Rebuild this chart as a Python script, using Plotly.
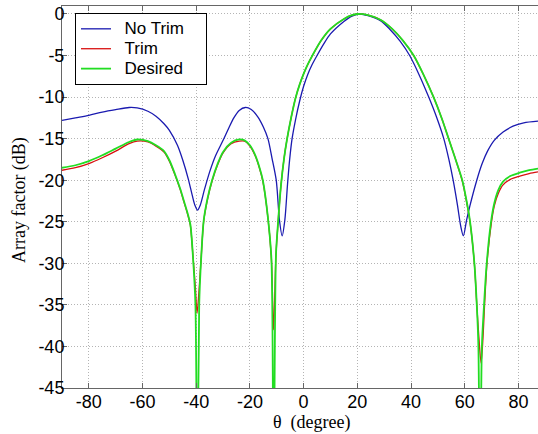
import plotly.graph_objects as go

# ---- data ----
theta_no_trim = [-90, -85, -80, -75, -70, -65, -62, -58, -55, -52, -50, -47, -45, -43,
                 -41.5, -40.5, -39.5, -38.5, -37, -35, -33, -30, -28, -26, -24, -21.7,
                 -19.5, -17, -15, -13.3, -11.8, -10.2, -9.0, -8.0, -7.0, -6.0, -5.2,
                 -4.3, -3.0, -1.5, 0, 1.5, 3, 5, 7.5, 10, 15, 18, 21, 24, 28.6, 32, 36,
                 39.5, 43, 46.6, 49.5, 52.2, 54.1, 55.7, 57.3, 58.5, 59.5, 60.7, 62,
                 64.5, 66.5, 68.5, 71, 74.3, 78, 82, 87.3]
af_no_trim = [-12.8, -12.5, -12.2, -11.8, -11.5, -11.25, -11.3, -11.7, -12.3, -13.2,
              -14.0, -15.8, -17.6, -19.8, -21.8, -23.0, -23.6, -23.0, -21.2, -19.0,
              -17.2, -15.2, -13.8, -12.5, -11.6, -11.25, -11.5, -12.4, -13.6, -15.0,
              -17.3, -20.0, -24.8, -26.7, -24.8, -20.5, -17.5, -15.0, -12.7, -10.5,
              -8.7, -7.3, -6.2, -5.0, -3.6, -2.4, -0.9, -0.25, 0.0, -0.2, -0.8, -1.8,
              -3.3, -5.0, -7.3, -10.0, -12.4, -15.0, -17.5, -20.0, -23.0, -25.5,
              -26.7, -24.8, -23.0, -20.0, -18.0, -16.5, -15.2, -14.2, -13.5, -13.1,
              -12.9]

theta_desired = [-90, -85, -80, -75, -70, -65, -62, -58, -55, -52, -50, -48, -46,
                 -44.5, -43.2, -42.2, -41.2, -40.3, -39.6, -38.9, -38.2, -37.2, -35.8,
                 -34.1, -32, -30, -27, -24, -22, -20, -18, -16.5, -15.2, -13.3, -12.0,
                 -11.2, -10.3, -9.5, -8.4, -7.3, -6.2, -4.6, -3.0, -1.5, 0, 1.5, 3.1,
                 6.5, 10, 15, 18, 20.6, 24, 28.6, 33, 37, 41, 44.5, 48.4, 51.5, 54,
                 56.7, 59.1, 60.7, 62, 63.6, 64.5, 65.1, 65.7, 66.4, 67.2, 68.2, 69.8,
                 71.0, 72.5, 74.2, 77, 80.5, 84, 87.3]
af_desired = [-18.5, -18.2, -17.7, -17.0, -16.2, -15.4, -15.1, -15.3, -15.8, -16.5,
              -17.6, -19.2, -21.0, -22.6, -24.0, -25.3, -29.3, -35.0, -60.0, -35.0,
              -29.6, -24.8, -22.2, -20.0, -18.0, -16.6, -15.5, -15.1, -15.2, -15.8,
              -17.0, -18.4, -20.0, -24.5, -29.5, -60.0, -29.0, -25.0, -20.5, -17.4,
              -15.1, -12.4, -10.1, -8.5, -7.2, -6.1, -5.1, -3.2, -1.8, -0.6, -0.15,
              0.0, -0.15, -0.7, -1.8, -3.2, -5.0, -7.2, -10.0, -12.6, -15.0, -17.6,
              -20.0, -22.5, -25.0, -30.0, -35.0, -40.0, -60.0, -40.0, -35.0, -30.0,
              -25.0, -22.8, -21.2, -20.2, -19.5, -19.1, -18.8, -18.6]

theta_trim = [-90, -85, -80, -75, -70, -65, -62, -58, -55, -52, -50, -48, -46,
              -44.5, -43.2, -42.2, -41.2, -40.3, -39.7, -38.9, -38.2, -37.2, -35.8,
              -34.1, -32, -30, -27, -24, -22, -20, -18, -16.5, -15.2, -13.3, -12.0,
              -11.2, -10.3, -9.5, -8.4, -7.3, -6.2, -4.6, -3.0, -1.5, 0, 1.5, 3.1,
              6.5, 10, 15, 18, 20.6, 24, 28.6, 33, 37, 41, 44.5, 48.4, 51.5, 54,
              56.7, 59.1, 60.7, 62, 63.6, 64.5, 65.3, 66.1, 66.8, 67.4, 68.3, 69.9,
              71.0, 72.5, 74.2, 77, 80.5, 84, 87.3]
af_trim = [-18.8, -18.5, -18.0, -17.3, -16.5, -15.6, -15.3, -15.4, -15.9, -16.6,
           -17.7, -19.3, -21.1, -22.7, -24.1, -25.4, -29.2, -33.0, -36.0, -33.0,
           -29.5, -24.9, -22.3, -20.1, -18.1, -16.7, -15.6, -15.3, -15.3, -15.9,
           -17.1, -18.5, -20.1, -24.5, -29.5, -38.0, -29.0, -25.0, -20.5, -17.4,
           -15.1, -12.4, -10.1, -8.5, -7.2, -6.1, -5.1, -3.2, -1.8, -0.6, -0.15,
           0.0, -0.15, -0.7, -1.8, -3.2, -5.0, -7.2, -10.0, -12.6, -15.0, -17.6,
           -20.1, -22.6, -25.1, -30.0, -35.0, -39.0, -42.0, -39.0, -35.0, -30.0,
           -25.2, -23.1, -21.6, -20.6, -19.9, -19.5, -19.2, -19.0]

x_ticks = [-80, -60, -40, -20, 0, 20, 40, 60, 80]
x_ticktext = ["-80", "-60", "-40", "-20", "0", "20", "40", "60", "80"]
y_ticks = [0, -5, -10, -15, -20, -25, -30, -35, -40, -45]
y_ticktext = ["0", "-5", "-10", "-15", "-20", "-25", "-30", "-35", "-40", "-45"]

series_names = ["No Trim", "Trim", "Desired"]


def legend_label(s):
    return '<span style="font-size:17px">\u2002' + s + '\u2002\u2002</span>'


fig = go.Figure()
fig.add_trace(go.Scatter(x=theta_no_trim, y=af_no_trim, mode="lines", name=legend_label(series_names[0]),
                         line=dict(color="#1a1ab0", width=1.3, shape="spline", smoothing=0.8)))
fig.add_trace(go.Scatter(x=theta_trim, y=af_trim, mode="lines", name=legend_label(series_names[1]),
                         line=dict(color="#d81010", width=1.3, shape="spline", smoothing=0.8)))
fig.add_trace(go.Scatter(x=theta_desired, y=af_desired, mode="lines", name=legend_label(series_names[2]),
                         line=dict(color="#22dd22", width=1.8, shape="spline", smoothing=0.8)))

axis_font = dict(family="Liberation Sans, Arial, sans-serif", size=18, color="#000")
serif = "Liberation Serif, Times New Roman, serif"

fig.update_layout(
    width=538, height=434,
    margin=dict(l=62, r=0, t=6, b=46),
    paper_bgcolor="white", plot_bgcolor="white",
    showlegend=True,
    legend=dict(x=0.0273, y=0.982, xanchor="left", yanchor="top",
                bgcolor="white", bordercolor="#000", borderwidth=1,
                font=dict(family="Liberation Sans, Arial, sans-serif", size=13, color="#000"),
                tracegroupgap=0, itemwidth=30),
    xaxis=dict(range=[-90, 87.3], tickvals=x_ticks, ticktext=x_ticktext,
               ticks="inside", ticklen=5, tickcolor="#666",
               showline=True, linecolor="#666", linewidth=1, mirror="ticks",
               showgrid=True, gridcolor="#b4b4b4", griddash="1px,2px", gridwidth=1,
               zeroline=False, tickfont=axis_font, automargin=False,
               ticklabelstandoff=-3),
    yaxis=dict(range=[-45, 0.96], tickvals=y_ticks, ticktext=y_ticktext,
               ticks="inside", ticklen=5, tickcolor="#666",
               showline=True, linecolor="#666", linewidth=1, mirror=False,
               showgrid=True, gridcolor="#b4b4b4", griddash="1px,2px", gridwidth=1,
               zeroline=False, tickfont=axis_font, automargin=False,
               ticklabelstandoff=-7),
    annotations=[
        dict(text="θ  (degree)", xref="paper", yref="paper",
             x=0.525, y=-0.0916, xanchor="center", yanchor="middle", showarrow=False,
             font=dict(family=serif, size=18, color="#000")),
        dict(text="Array factor (dB)", xref="paper", yref="paper", textangle=-90,
             x=-0.0903, y=0.492, xanchor="center", yanchor="middle", showarrow=False,
             font=dict(family=serif, size=18, color="#000")),
    ],
)

fig.write_html("out.html", config={"displayModeBar": False},
               post_script="document.body.style.margin='0';document.body.style.overflow='hidden';")
